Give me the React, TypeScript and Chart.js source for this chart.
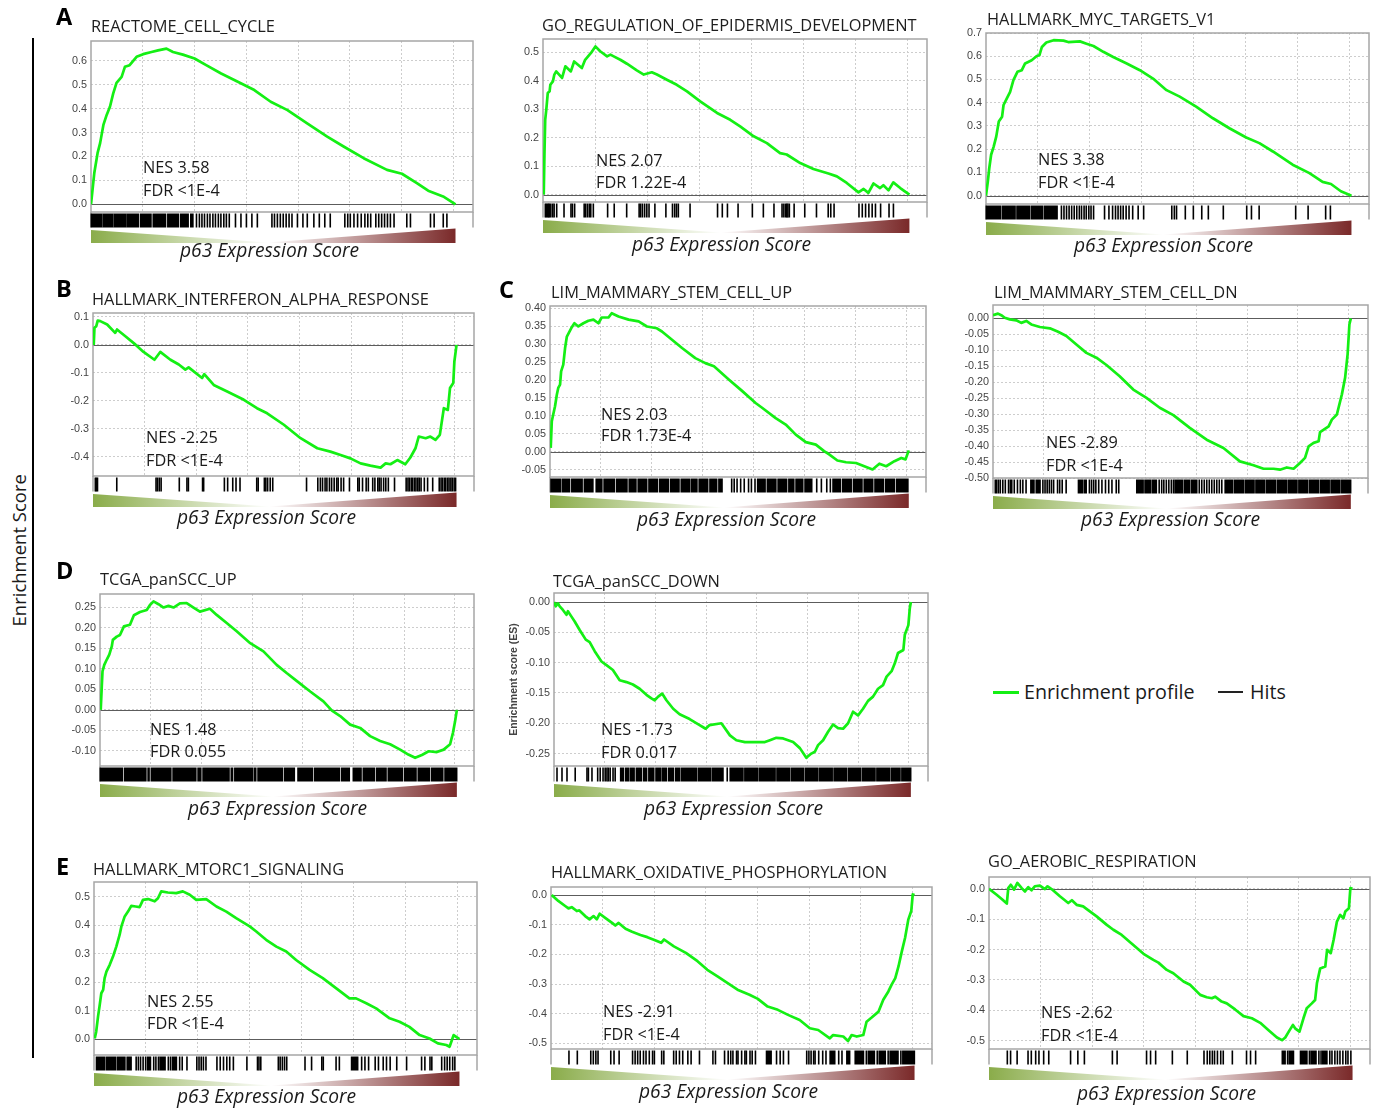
import React, { useEffect, useRef } from "react";
import { Chart, registerables } from "chart.js";

Chart.register(...registerables);

type Pt = [number, number];
type Hit = number | [number, number];

// ---------------- shared x grid (percent of ranked list) ----------------
const GRID_X = [14.2, 28.4, 42.6, 56.8, 71.0, 85.2, 99.4];
const X_MAX = 104.8;

// ---------------- A1 REACTOME_CELL_CYCLE ----------------
const titleA1 = "REACTOME_CELL_CYCLE";
const statsA1 = ["NES 3.58", "FDR <1E-4"];
const ticksA1 = ["0.0", "0.1", "0.2", "0.3", "0.4", "0.5", "0.6"];
const esA1: Pt[] = [[0,0],[0.9,0.131],[1.8,0.214],[2.5,0.256],[3.4,0.332],[4.3,0.374],[5.2,0.408],[6.1,0.464],[7.0,0.508],[8.4,0.533],[9.3,0.575],[10.6,0.582],[12.5,0.617],[14.3,0.628],[16.6,0.637],[18.4,0.644],[20.7,0.651],[22.5,0.637],[25.2,0.626],[28.4,0.610],[31.6,0.582],[35.7,0.547],[41.1,0.506],[44.8,0.478],[49.3,0.429],[53.9,0.394],[59.3,0.339],[64.8,0.283],[69.3,0.242],[74.8,0.193],[81.2,0.144],[85.3,0.128],[89.4,0.089],[92.5,0.057],[96.6,0.033],[100,0]];
const hitsA1: Hit[] = [[0,3],[3.3,6],[6.3,9.5],[9.8,13],[13.5,16.5],[17,20.5],[21,24],[24.5,26.7],[27.3,28],28.8,29.6,30.3,31,31.8,32.5,33.3,34,34.8,35.5,36.3,37,37.8,39.5,41,42.5,44,45.5,49.5,50.2,51,51.8,52.6,53.4,54.2,55,56.5,58,59.2,61,62.5,64,65.5,69.5,70.3,71,72,73,74,75,75.8,76.6,78,78.8,79.6,80.4,81.2,82,83,86.5,87.5,93,94,96.5,97.5];

// ---------------- A2 GO_REGULATION_OF_EPIDERMIS_DEVELOPMENT ----------------
const titleA2 = "GO_REGULATION_OF_EPIDERMIS_DEVELOPMENT";
const statsA2 = ["NES 2.07", "FDR 1.22E-4"];
const ticksA2 = ["0.0", "0.1", "0.2", "0.3", "0.4", "0.5"];
const esA2: Pt[] = [[0.2,0],[0.4,0.146],[0.6,0.263],[0.9,0.299],[1.3,0.357],[1.8,0.363],[2.0,0.386],[2.7,0.398],[3.1,0.422],[3.6,0.433],[5.2,0.410],[6.1,0.451],[7.6,0.433],[8.5,0.468],[10.6,0.445],[11.5,0.474],[13.1,0.498],[14.3,0.521],[15.6,0.504],[17.5,0.486],[18.4,0.492],[19.3,0.486],[21.1,0.474],[22.9,0.460],[25.6,0.437],[27.5,0.422],[29.7,0.430],[31.1,0.422],[33.8,0.404],[36.5,0.386],[39.3,0.363],[42.9,0.328],[47.5,0.287],[51.1,0.263],[53.8,0.240],[57.5,0.205],[61.1,0.181],[64.7,0.146],[66.5,0.141],[70.2,0.111],[73.8,0.090],[77.9,0.074],[80.2,0.064],[82.9,0.041],[86.1,0.008],[87.5,0.020],[88.8,0.006],[90.2,0.039],[92.0,0.023],[92.9,0.033],[94.3,0.015],[95.6,0.043],[97.5,0.023],[100,0]];
const hitsA2: Hit[] = [0.5,0.8,1.1,1.4,1.6,2,2.5,2.9,3.6,5.6,7.5,7.9,8.5,11.1,11.5,12,12.5,12.9,13.6,17.5,19.3,22.7,26.1,26.5,27,27.6,28.2,28.8,30.4,33.4,35.2,35.8,36.3,36.8,40,47.5,48.8,50.2,53.1,57,60,62.9,65.1,65.6,66.1,66.4,66.7,67.1,68.4,71.3,74.5,77.7,78.4,79.3,86.1,87,87.9,88.8,89.7,90.6,92,94.3,95.5];

// ---------------- A3 HALLMARK_MYC_TARGETS_V1 ----------------
const titleA3 = "HALLMARK_MYC_TARGETS_V1";
const statsA3 = ["NES 3.38", "FDR <1E-4"];
const ticksA3 = ["0.0", "0.1", "0.2", "0.3", "0.4", "0.5", "0.6", "0.7"];
const esA3: Pt[] = [[0,0],[0.5,0.061],[0.9,0.119],[1.4,0.176],[2.1,0.211],[2.8,0.254],[3.5,0.319],[4.4,0.340],[4.8,0.390],[5.7,0.419],[6.6,0.447],[7.5,0.497],[8.6,0.533],[9.8,0.540],[10.7,0.569],[12.5,0.583],[13.9,0.601],[14.6,0.604],[15.3,0.640],[16.5,0.659],[18.5,0.669],[21.2,0.667],[22.5,0.661],[25.7,0.664],[27.5,0.654],[29.4,0.644],[32.1,0.619],[34.8,0.597],[38.5,0.569],[42.1,0.540],[45.7,0.504],[49.4,0.454],[53.0,0.426],[57.5,0.383],[62.1,0.333],[66.6,0.290],[71.2,0.250],[74.8,0.226],[78.5,0.190],[83.9,0.133],[88.5,0.097],[92.1,0.059],[94.4,0.050],[97.1,0.019],[100,0]];
const hitsA3: Hit[] = [[0,4],[4.4,8],[8.4,12],[12.4,15.5],[15.9,19.5],20.5,21.2,21.9,22.6,23.3,24,24.7,25.4,26,26.7,27.3,28,28.6,29.3,32.3,33.5,34.5,35.3,36,36.7,37.4,38.2,39,40,41.5,43,50.7,51.4,52,54.4,56.6,58.9,60.7,64.8,71.2,72.5,74.6,84.6,88,92.8,94.1];

// ---------------- B1 HALLMARK_INTERFERON_ALPHA_RESPONSE ----------------
const titleB1 = "HALLMARK_INTERFERON_ALPHA_RESPONSE";
const statsB1 = ["NES -2.25", "FDR <1E-4"];
const ticksB1 = ["-0.4", "-0.3", "-0.2", "-0.1", "0.0", "0.1"];
const esB1: Pt[] = [[0.2,0],[0.4,0.061],[0.9,0.067],[1.3,0.087],[2.0,0.085],[3.9,0.073],[6.1,0.043],[6.6,0.055],[8.9,0.031],[11.7,0.001],[13.9,-0.025],[16.9,-0.053],[18.5,-0.025],[21.3,-0.053],[23.6,-0.070],[25.4,-0.088],[26.3,-0.080],[30.0,-0.118],[30.6,-0.104],[33.2,-0.143],[36.9,-0.166],[41.5,-0.196],[45.1,-0.226],[47.9,-0.244],[52.5,-0.285],[57.1,-0.333],[61.7,-0.369],[65.3,-0.381],[68.1,-0.393],[70.8,-0.405],[73.6,-0.423],[76.3,-0.431],[79.1,-0.438],[80.5,-0.423],[81.8,-0.426],[83.7,-0.411],[85.9,-0.426],[87.3,-0.402],[88.7,-0.369],[89.6,-0.327],[91.5,-0.333],[92.8,-0.327],[94.2,-0.339],[95.4,-0.321],[96.5,-0.226],[97.6,-0.232],[98.2,-0.154],[99.1,-0.136],[99.4,-0.059],[100,0]];
const hitsB1: Hit[] = [0.5,0.8,1.1,6.4,17.2,17.6,18.1,18.6,23.6,25.7,26.1,30,30.3,36,36.9,38.3,39.2,40.3,44.9,45.3,47,47.4,47.9,48.6,49.3,58.6,61.7,62.4,63,63.7,64.2,64.9,65.5,66.2,66.9,67.3,68.1,68.8,70.4,72.7,73.1,74,75,75.6,76.8,77.4,78.2,78.6,79.1,79.8,80.4,81.1,82.8,86,86.5,86.9,87.4,87.8,88.3,88.7,89.2,89.6,90.1,91,91.9,93.3,95.1,95.6,96,96.5,96.9,97.4,97.8,98.3,98.7,99.2,99.6];

// ---------------- C1 LIM_MAMMARY_STEM_CELL_UP ----------------
const titleC1 = "LIM_MAMMARY_STEM_CELL_UP";
const statsC1 = ["NES 2.03", "FDR 1.73E-4"];
const ticksC1 = ["-0.05", "0.00", "0.05", "0.10", "0.15", "0.20", "0.25", "0.30", "0.35", "0.40"];
const esC1: Pt[] = [[0.2,0.011],[0.5,0.085],[0.9,0.104],[1.4,0.127],[1.9,0.159],[2.3,0.178],[2.8,0.187],[3.1,0.224],[3.7,0.243],[4.2,0.289],[4.7,0.321],[5.9,0.344],[6.8,0.358],[7.9,0.349],[9.3,0.358],[10.7,0.365],[12.1,0.368],[13.5,0.358],[14.4,0.374],[16.3,0.374],[17.2,0.386],[19.1,0.377],[21.9,0.368],[24.7,0.363],[27.0,0.349],[29.8,0.344],[31.2,0.335],[34.0,0.312],[36.8,0.289],[40.5,0.261],[43.3,0.247],[45.7,0.238],[49.9,0.201],[53.6,0.169],[57.3,0.136],[59.2,0.122],[62.9,0.094],[65.7,0.076],[68.5,0.048],[71.3,0.027],[74.1,0.020],[76.4,0.002],[77.8,-0.007],[80.1,-0.024],[82.5,-0.029],[85.3,-0.031],[87.6,-0.040],[89.9,-0.049],[91.8,-0.033],[93.7,-0.040],[96.0,-0.026],[97.9,-0.017],[99.1,-0.021],[100,0.004]];
const hitsC1: Hit[] = [[0.2,3],[3.4,5.5],[6,9],[9.5,12],[12.8,14.5],[15,18],[18.5,21.5],[22,24],[24.5,27],[27.5,30],[30.5,33],[33.5,36],[36.5,39],[39.4,41],[41.5,44],[44.5,46.5],[47,48],50.5,51.2,52,53,54,55.2,56,57,[57.8,60],[60.5,63],[63.5,66],[66.5,68],[68.5,70.5],[71,73],74.2,75.5,77,78,[78.8,81],[81.5,84],[84.5,87],[87.5,90],[90.5,93],[93.5,96],[96.5,99.8]];

// ---------------- C2 LIM_MAMMARY_STEM_CELL_DN ----------------
const titleC2 = "LIM_MAMMARY_STEM_CELL_DN";
const statsC2 = ["NES -2.89", "FDR <1E-4"];
const ticksC2 = ["-0.50", "-0.45", "-0.40", "-0.35", "-0.30", "-0.25", "-0.20", "-0.15", "-0.10", "-0.05", "0.00"];
const esC2: Pt[] = [[0,0.010],[1.4,0.015],[2.3,0.010],[3.3,0.002],[4.7,-0.003],[6.5,-0.006],[7.9,-0.014],[9.3,-0.008],[10.7,-0.019],[13.1,-0.027],[15.9,-0.031],[18.2,-0.042],[20.5,-0.055],[23.3,-0.082],[26.1,-0.108],[28.9,-0.123],[31.7,-0.146],[35.4,-0.181],[39.2,-0.223],[42.9,-0.249],[46.6,-0.280],[50.4,-0.303],[55.0,-0.343],[59.7,-0.380],[64.4,-0.406],[69.0,-0.448],[72.8,-0.460],[75.6,-0.471],[78.4,-0.471],[80.2,-0.474],[82.1,-0.467],[84.0,-0.471],[85.8,-0.453],[87.2,-0.437],[88.2,-0.401],[89.6,-0.390],[91.0,-0.385],[91.4,-0.356],[93.8,-0.338],[94.7,-0.317],[96.1,-0.301],[97.5,-0.238],[98.4,-0.186],[99.1,-0.113],[99.6,-0.019],[100,0]];
const hitsC2: Hit[] = [0.5,0.9,1.4,1.9,2.6,3.3,4.2,4.7,5.1,5.8,6.7,7.5,8.2,9.1,[10.5,11.5],[12,13.2],13.8,14.4,15,15.6,16.2,16.8,17.9,18.5,19.2,20.3,[23.8,25],[25.4,26.1],26.8,27.4,28,28.6,29.4,30.3,31.3,32.2,33.1,34.3,35,[40.1,42],[42.4,44],[44.4,45.7],46.3,47,47.6,48.3,49,49.7,50.3,[50.8,53],[53.4,55],[55.4,57],57.5,58.2,58.9,59.6,60.3,61,61.7,62.4,63.1,63.8,[64.8,67],[67.4,70],[70.4,73],[73.4,76],[76.4,79],[79.4,82],[82.4,85],[85.4,88],[88.4,91],[91.4,94],[94.4,97],[97.4,100]];

// ---------------- D1 TCGA_panSCC_UP ----------------
const titleD1 = "TCGA_panSCC_UP";
const statsD1 = ["NES 1.48", "FDR 0.055"];
const ticksD1 = ["-0.10", "-0.05", "0.00", "0.05", "0.10", "0.15", "0.20", "0.25"];
const esD1: Pt[] = [[0.2,0],[0.5,0.058],[0.7,0.094],[1.2,0.110],[1.9,0.123],[2.6,0.135],[3.3,0.155],[3.6,0.171],[4.7,0.179],[5.6,0.183],[6.7,0.204],[8.4,0.208],[9.5,0.231],[11.2,0.239],[13.1,0.244],[14.0,0.256],[15.0,0.265],[16.4,0.258],[17.8,0.250],[19.2,0.254],[20.6,0.250],[22.4,0.260],[24.3,0.261],[26.2,0.250],[28.0,0.240],[30.8,0.247],[32.7,0.232],[35.5,0.212],[38.3,0.192],[42.1,0.163],[45.8,0.143],[49.5,0.110],[52.3,0.090],[55.1,0.071],[58.9,0.045],[62.6,0.021],[65.0,-0.002],[67.3,-0.015],[70.1,-0.036],[72.9,-0.044],[75.7,-0.064],[78.5,-0.076],[81.3,-0.084],[84.1,-0.097],[86.4,-0.109],[88.3,-0.117],[90.2,-0.110],[92.1,-0.101],[94.4,-0.103],[96.3,-0.097],[98.1,-0.084],[98.9,-0.056],[99.5,-0.028],[100,0]];
const hitsD1: Hit[] = [[0,6.3],[6.8,12.9],[13.4,13.8],[14.3,19.9],[20.4,26.9],[27.4,28.3],[28.8,36.2],[36.7,37.2],[37.7,42.8],[43.2,43.7],[44.2,51.2],[51.7,54.5],[55.4,59.6],[60.1,67.1],[67.6,69.9],[70.9,73.2],[73.7,76.9],[77.4,80.2],[80.7,84.8],[85.3,88.6],[89.1,92.3],[92.8,96.1],[96.6,100]];

// ---------------- D2 TCGA_panSCC_DOWN ----------------
const titleD2 = "TCGA_panSCC_DOWN";
const statsD2 = ["NES -1.73", "FDR 0.017"];
const ticksD2 = ["-0.25", "-0.20", "-0.15", "-0.10", "-0.05", "0.00"];
const esD2: Pt[] = [[0,0],[0.5,-0.007],[1.1,-0.002],[1.6,-0.007],[2.5,-0.013],[3.5,-0.021],[3.9,-0.015],[4.9,-0.024],[5.8,-0.032],[7.2,-0.046],[8.9,-0.062],[10.0,-0.066],[11.4,-0.081],[13.3,-0.098],[14.7,-0.104],[16.5,-0.112],[18.4,-0.129],[20.3,-0.132],[22.1,-0.136],[24.0,-0.143],[25.9,-0.153],[27.3,-0.159],[28.2,-0.162],[29.2,-0.156],[30.3,-0.151],[31.5,-0.162],[33.4,-0.176],[35.2,-0.185],[38.0,-0.193],[40.8,-0.203],[42.5,-0.209],[43.6,-0.203],[46.9,-0.200],[49.3,-0.220],[51.1,-0.228],[53.5,-0.231],[56.7,-0.231],[59.1,-0.231],[60.5,-0.228],[62.3,-0.224],[64.2,-0.225],[65.6,-0.228],[67.0,-0.231],[68.9,-0.241],[70.7,-0.257],[72.1,-0.250],[73.1,-0.247],[74.0,-0.236],[75.4,-0.228],[76.8,-0.214],[78.2,-0.202],[79.6,-0.208],[81.0,-0.209],[82.4,-0.200],[83.8,-0.181],[85.2,-0.187],[86.6,-0.176],[88.0,-0.163],[89.4,-0.156],[90.8,-0.143],[92.2,-0.137],[93.2,-0.123],[94.6,-0.114],[95.5,-0.101],[96.4,-0.084],[97.9,-0.079],[98.3,-0.054],[99.3,-0.038],[99.7,-0.010],[100,0]];
const hitsD2: Hit[] = [0.7,2.1,3.5,5.8,9.1,9.5,10.5,12.1,12.8,13.6,14.2,14.7,15.1,15.6,16.4,17,[18.6,19.5],[20,21],[21.4,22.5],[23,24.5],[25,26],[26.5,28],[28.5,30],[30.4,31.5],[32,33.5],[34,35.2],[35.6,40],[40.4,44],[44.4,47.4],48.4,[49.3,53],[53.4,57],[57.4,62],[62.4,66],[66.4,70],[70.4,74],[74.4,78],[78.4,82],[82.4,86],[86.4,90],[90.4,94],[94.4,97],[97.4,100]];

// ---------------- E1 HALLMARK_MTORC1_SIGNALING ----------------
const titleE1 = "HALLMARK_MTORC1_SIGNALING";
const statsE1 = ["NES 2.55", "FDR <1E-4"];
const ticksE1 = ["0.0", "0.1", "0.2", "0.3", "0.4", "0.5"];
const esE1: Pt[] = [[0.2,0.002],[0.6,0.026],[1.1,0.079],[1.5,0.114],[2.0,0.161],[2.5,0.173],[2.9,0.214],[3.4,0.237],[4.3,0.261],[5.2,0.290],[6.1,0.325],[7.0,0.366],[7.5,0.396],[8.4,0.431],[9.3,0.448],[10.2,0.468],[11.4,0.466],[12.5,0.464],[13.4,0.489],[14.8,0.492],[16.6,0.484],[17.5,0.495],[18.4,0.519],[20.2,0.515],[22.5,0.513],[24.3,0.519],[26.2,0.507],[28.0,0.489],[30.7,0.492],[33.5,0.466],[36.2,0.448],[38.9,0.425],[42.6,0.396],[44.4,0.378],[47.1,0.349],[49.9,0.325],[52.6,0.308],[55.3,0.278],[59.0,0.243],[62.6,0.214],[66.3,0.178],[69.9,0.143],[71.7,0.143],[74.5,0.126],[77.2,0.108],[80.9,0.073],[83.6,0.061],[86.3,0.043],[89.1,0.014],[91.8,0.002],[94.1,-0.015],[96.4,-0.021],[97.3,-0.027],[98.4,0.014],[99.3,0.006],[100,0]];
const hitsE1: Hit[] = [[0.6,3],[3.4,6],[6.4,8.5],[9,10.2],11.4,12,12.6,13.3,14,[14.6,15.5],16.2,16.8,17.5,[18,19.5],20.2,20.8,[21.4,22.6],23.3,24,25.3,28,28.6,29.2,29.8,30.5,33.5,34.4,35.3,36.2,37,38,41.7,44.6,45,45.5,50.3,50.8,51.4,52,52.6,57.6,59.4,62.2,62.6,66.1,67,[70.4,72.2],73.1,74,75,76.8,77.7,79,79.9,80.9,82.7,85.4,89.5,90.4,91.8,92.3,95,95.8,96.5,97.2,98,98.6];

// ---------------- E2 HALLMARK_OXIDATIVE_PHOSPHORYLATION ----------------
const titleE2 = "HALLMARK_OXIDATIVE_PHOSPHORYLATION";
const statsE2 = ["NES -2.91", "FDR <1E-4"];
const ticksE2 = ["-0.5", "-0.4", "-0.3", "-0.2", "-0.1", "0.0"];
const esE2: Pt[] = [[0.2,0],[2.0,-0.020],[3.9,-0.037],[4.8,-0.045],[5.7,-0.041],[7.1,-0.054],[7.8,-0.052],[9.4,-0.071],[10.6,-0.082],[11.7,-0.071],[12.6,-0.082],[13.4,-0.063],[14.9,-0.077],[16.8,-0.094],[17.7,-0.103],[18.6,-0.094],[20.5,-0.114],[22.3,-0.124],[24.6,-0.135],[26.5,-0.142],[28.8,-0.153],[30.3,-0.161],[31.1,-0.150],[33.8,-0.173],[37.1,-0.195],[40.3,-0.223],[43.0,-0.252],[45.8,-0.274],[48.6,-0.297],[51.3,-0.319],[54.6,-0.336],[56.9,-0.350],[59.6,-0.376],[62.4,-0.387],[65.2,-0.404],[68.4,-0.421],[71.2,-0.449],[73.5,-0.455],[76.7,-0.483],[77.6,-0.472],[80.4,-0.477],[81.7,-0.492],[82.7,-0.472],[84.1,-0.477],[85.9,-0.472],[86.8,-0.427],[88.2,-0.413],[90.1,-0.393],[91.4,-0.353],[92.8,-0.325],[93.7,-0.302],[94.7,-0.280],[95.6,-0.240],[96.5,-0.190],[97.4,-0.144],[98.3,-0.082],[99.1,-0.054],[99.5,0.002],[100,0]];
const hitsE2: Hit[] = [4.8,7.1,10.8,11.5,12.2,12.8,16.3,17.2,18.6,22.3,23,23.7,24.4,25.3,26,26.9,27.8,28.3,30.3,30.9,33.6,34.3,35.2,36.1,37.5,38.4,40.7,44.4,45.1,47.6,48.6,49.3,49.9,50.9,51.3,52.3,53.2,53.6,54.6,55.2,56.1,[59.2,60.6],61.9,62.9,63.8,65.2,70.2,70.8,71.4,72.1,72.5,73.5,74.6,75.5,[76.7,78.1],79,79.9,[81.3,82.2],[83.6,86],86.6,[87.2,89],89.6,[90.2,92],92.6,[93.2,95.5],96.1,[96.7,100]];

// ---------------- E3 GO_AEROBIC_RESPIRATION ----------------
const titleE3 = "GO_AEROBIC_RESPIRATION";
const statsE3 = ["NES -2.62", "FDR <1E-4"];
const ticksE3 = ["-0.5", "-0.4", "-0.3", "-0.2", "-0.1", "0.0"];
const esE3: Pt[] = [[0,0],[2.1,-0.020],[3.5,-0.034],[4.9,-0.049],[5.3,0.002],[6.0,0.013],[6.9,-0.003],[7.8,0.019],[9.0,0.002],[9.9,-0.009],[10.8,0.005],[11.7,-0.005],[12.6,0.008],[14.0,0.010],[15.4,-0.001],[16.1,0.008],[17.2,-0.001],[19.5,-0.025],[21.8,-0.047],[22.8,-0.038],[24.1,-0.053],[25.9,-0.058],[26.9,-0.067],[29.6,-0.091],[32.4,-0.119],[34.2,-0.135],[36.5,-0.152],[39.7,-0.185],[42.5,-0.214],[45.2,-0.234],[46.6,-0.243],[48.9,-0.267],[50.7,-0.278],[53.5,-0.305],[55.3,-0.316],[58.1,-0.349],[59.9,-0.357],[61.3,-0.360],[62.2,-0.355],[64.0,-0.371],[65.4,-0.377],[67.7,-0.397],[70.0,-0.419],[72.3,-0.426],[74.6,-0.441],[76.9,-0.465],[79.2,-0.489],[80.6,-0.498],[81.5,-0.489],[82.7,-0.465],[83.6,-0.448],[84.2,-0.459],[85.4,-0.470],[86.5,-0.426],[87.4,-0.393],[88.8,-0.377],[89.7,-0.366],[90.2,-0.311],[91.1,-0.262],[92.5,-0.256],[93.0,-0.201],[94.0,-0.212],[94.8,-0.168],[95.7,-0.108],[96.6,-0.086],[97.5,-0.097],[98.0,-0.075],[99.0,-0.064],[99.4,0.002],[100,0]];
const hitsE3: Hit[] = [4.9,5.8,7.6,10.6,11.5,12.7,13.6,14.9,16.3,22.3,24.3,26.1,33.8,35.1,43.2,44.3,45.7,50.3,54.4,59,59.9,60.6,61.3,61.9,62.7,63.6,64.3,66.8,70.7,71.8,73.2,[80.6,81.5],82,[82.5,83.8],[85.6,87.5],88,[88.5,90],90.6,91.2,[91.7,93],93.6,94.2,95,95.7,96.4,97.2,98,98.6,99.4];

// ---------------- legend / labels ----------------
const legendLabels = ["Enrichment profile", "Hits"];
const xAxisLabel = "p63 Expression Score";
const sideLabel = "Enrichment Score";
const esAxisTitle = "Enrichment score (ES)";

// ---------------- layout (positions only) ----------------
interface Panel {
  title: string; stats: string[]; ticks: string[]; es: Pt[]; hits: Hit[];
  y: [number, number]; box: [number, number, number, number];
  tp: [number, number]; sp: [number, number, number]; pp: [number, number]; yTitle?: boolean;
}

const PANELS: Panel[] = [
  { title: titleA1, stats: statsA1, ticks: ticksA1, es: esA1, hits: hitsA1, y: [-0.032, 0.683], box: [91, 41, 473, 212], tp: [91, 33], sp: [143, 173, 196], pp: [180, 257] },
  { title: titleA2, stats: statsA2, ticks: ticksA2, es: esA2, hits: hitsA2, y: [-0.026, 0.547], box: [543, 39, 927, 202], tp: [542, 32], sp: [596, 166, 188], pp: [632, 251] },
  { title: titleA3, stats: statsA3, ticks: ticksA3, es: esA3, hits: hitsA3, y: [-0.036, 0.70], box: [986, 33, 1369, 204], tp: [987, 26], sp: [1038, 165, 188], pp: [1074, 252] },
  { title: titleB1, stats: statsB1, ticks: ticksB1, es: esB1, hits: hitsB1, y: [-0.468, 0.114], box: [93, 313, 474, 476], tp: [92, 306], sp: [146, 443, 466], pp: [177, 524] },
  { title: titleC1, stats: statsC1, ticks: ticksC1, es: esC1, hits: hitsC1, y: [-0.070, 0.406], box: [550, 306, 926, 477], tp: [551, 299], sp: [601, 420, 441], pp: [637, 526] },
  { title: titleC2, stats: statsC2, ticks: ticksC2, es: esC2, hits: hitsC2, y: [-0.50, 0.042], box: [993, 305, 1368, 478], tp: [994, 299], sp: [1046, 448, 471], pp: [1081, 526] },
  { title: titleD1, stats: statsD1, ticks: ticksD1, es: esD1, hits: hitsD1, y: [-0.137, 0.283], box: [100, 594, 474, 766], tp: [100, 586], sp: [150, 735, 757], pp: [188, 815] },
  { title: titleD2, stats: statsD2, ticks: ticksD2, es: esD2, hits: hitsD2, y: [-0.2705, 0.015], box: [554, 593, 928, 766], tp: [553, 588], sp: [601, 735, 758], pp: [644, 815], yTitle: true },
  { title: titleE1, stats: statsE1, ticks: ticksE1, es: esE1, hits: hitsE1, y: [-0.056, 0.552], box: [94, 882, 477, 1055], tp: [93, 876], sp: [147, 1007, 1029], pp: [177, 1103] },
  { title: titleE2, stats: statsE2, ticks: ticksE2, es: esE2, hits: hitsE2, y: [-0.519, 0.027], box: [551, 887, 932, 1049], tp: [551, 879], sp: [603, 1017, 1040], pp: [639, 1098] },
  { title: titleE3, stats: statsE3, ticks: ticksE3, es: esE3, hits: hitsE3, y: [-0.527, 0.0385], box: [989, 877, 1370, 1049], tp: [988, 868], sp: [1041, 1018, 1041], pp: [1077, 1100] },
];

const LETTERS: [string, number, number][] = [["A", 56, 26], ["B", 56, 298], ["C", 499, 299], ["D", 56, 580], ["E", 56, 876]];

const AXW = 46, PT = 12, PR = 4, PB = 36;
const GREEN = "#14ef14";
const OPEN = "'Open Sans', 'Noto Sans', sans-serif";

function Txt(props: { x: number; b: number; size: number; children: React.ReactNode; italic?: boolean; bold?: boolean; color?: string }) {
  const { x, b, size, children, italic, bold, color } = props;
  return (
    <div style={{ position: "absolute", left: x, top: b - 0.888 * size, fontFamily: OPEN, fontSize: size, lineHeight: `${size}px`, fontStyle: italic ? "italic" : "normal", fontWeight: bold ? 700 : 400, color: color || "#1a1a1a", whiteSpace: "nowrap" }}>
      {children}
    </div>
  );
}

function GseaChart({ panel }: { panel: Panel }) {
  const ref = useRef<HTMLCanvasElement | null>(null);
  const [L, T, R, B] = panel.box;
  const width = R - L + AXW + PR;
  const height = B - T + PT + PB;

  useEffect(() => {
    if (!ref.current) return;
    const tickVals = panel.ticks.map((t) => parseFloat(t));
    const gsea = {
      id: "gsea",
      beforeDatasetsDraw(chart: any) {
        const { ctx, chartArea: a, scales } = chart;
        const y0 = Math.round(scales.y.getPixelForValue(0)) + 0.5;
        ctx.save();
        ctx.strokeStyle = "#5c5c5c";
        ctx.lineWidth = 1.2;
        ctx.beginPath();
        ctx.moveTo(a.left, y0);
        ctx.lineTo(a.right, y0);
        ctx.stroke();
        ctx.strokeStyle = "#a6a6a6";
        ctx.lineWidth = 1.5;
        ctx.strokeRect(a.left, a.top, a.right - a.left, a.bottom - a.top);
        ctx.restore();
      },
      afterDraw(chart: any) {
        const { ctx, chartArea: a, scales } = chart;
        const xs = scales.x;
        const hTop = a.bottom + 1.5;
        const hBot = a.bottom + 15.5;
        ctx.save();
        ctx.strokeStyle = "#a6a6a6";
        ctx.lineWidth = 1.5;
        ctx.beginPath();
        ctx.moveTo(a.left, a.bottom);
        ctx.lineTo(a.left, hBot);
        ctx.moveTo(a.right, a.bottom);
        ctx.lineTo(a.right, hBot);
        ctx.stroke();
        ctx.fillStyle = "#000";
        for (const hit of panel.hits) {
          if (typeof hit === "number") {
            const xp = xs.getPixelForValue(hit);
            ctx.fillRect(xp - 0.3, hTop, 1.6, hBot - hTop);
          } else {
            const x1 = xs.getPixelForValue(hit[0]);
            const x2 = xs.getPixelForValue(hit[1]);
            ctx.fillRect(x1 - 0.5, hTop, x2 - x1 + 1.1, hBot - hTop);
          }
        }
        const gx0 = xs.getPixelForValue(0);
        const gx1 = xs.getPixelForValue(100);
        const gxm = xs.getPixelForValue(48.5);
        const gTop = a.bottom + 17;
        const gBot = a.bottom + 31;
        const grad = ctx.createLinearGradient(gx0, 0, gx1, 0);
        grad.addColorStop(0, "#8aac4a");
        grad.addColorStop(0.485, "#ffffff");
        grad.addColorStop(1, "#7a2929");
        ctx.fillStyle = grad;
        ctx.beginPath();
        ctx.moveTo(gx0, gTop + 1);
        ctx.lineTo(gxm, gBot - 0.5);
        ctx.lineTo(gx1, gTop - 0.5);
        ctx.lineTo(gx1, gBot);
        ctx.lineTo(gx0, gBot);
        ctx.closePath();
        ctx.fill();
        ctx.restore();
      },
    };

    const gridOpts = { color: "#cdcdcd", lineWidth: 1, drawTicks: false };
    const chart = new Chart(ref.current, {
      type: "line",
      data: {
        datasets: [
          {
            data: panel.es.map(([x, y]) => ({ x, y })),
            borderColor: GREEN,
            borderWidth: 2.7,
            pointRadius: 0,
            tension: 0,
            fill: false,
            borderJoinStyle: "round",
          },
        ],
      },
      options: {
        animation: false,
        responsive: false,
        maintainAspectRatio: false,
        events: [],
        layout: { padding: { left: 0, top: PT, right: PR, bottom: PB } },
        plugins: { legend: { display: false }, tooltip: { enabled: false }, title: { display: false } },
        scales: {
          x: {
            type: "linear",
            min: 0,
            max: X_MAX,
            afterBuildTicks: (s: any) => { s.ticks = GRID_X.map((v) => ({ value: v })); },
            afterFit: (s: any) => { s.height = 0; },
            ticks: { display: false },
            grid: gridOpts,
            border: { display: false, dash: [2, 2] },
          },
          y: {
            type: "linear",
            min: panel.y[0],
            max: panel.y[1],
            afterBuildTicks: (s: any) => { s.ticks = tickVals.map((v) => ({ value: v })); },
            afterFit: (s: any) => { s.width = AXW; },
            ticks: {
              autoSkip: false,
              padding: 4,
              color: "#444444",
              font: { family: "'Liberation Sans', Arial, sans-serif", size: 10.8 },
              callback: (_v: any, i: number) => panel.ticks[i],
            },
            grid: gridOpts,
            border: { display: false, dash: [2, 2] },
            title: panel.yTitle
              ? { display: true, text: esAxisTitle, color: "#444", padding: 0, font: { family: "'Liberation Sans', Arial, sans-serif", size: 10.5, weight: "bold" } }
              : { display: false },
          },
        },
      },
      plugins: [gsea],
    } as any);
    return () => chart.destroy();
  }, [panel]);

  return (
    <canvas
      ref={ref}
      width={width}
      height={height}
      style={{ position: "absolute", left: L - AXW, top: T - PT, width, height }}
    />
  );
}

export default function App() {
  return (
    <div style={{ position: "absolute", left: 0, top: 0, width: 1383, height: 1115, background: "#fff", overflow: "hidden" }}>
      {PANELS.map((p, i) => (
        <React.Fragment key={i}>
          <GseaChart panel={p} />
          <Txt x={p.tp[0]} b={p.tp[1]} size={16.4} color="#1e1e1e">{p.title}</Txt>
          <Txt x={p.sp[0]} b={p.sp[1]} size={16.3} color="#1a1a1a">{p.stats[0]}</Txt>
          <Txt x={p.sp[0]} b={p.sp[2]} size={16.3} color="#1a1a1a">{p.stats[1]}</Txt>
          <Txt x={p.pp[0]} b={p.pp[1]} size={19.2} italic color="#1a1a1a">{xAxisLabel}</Txt>
        </React.Fragment>
      ))}
      {LETTERS.map(([t, x, b]) => (
        <Txt key={t} x={x} b={b} size={23.5} bold color="#000">{t}</Txt>
      ))}
      {/* side label and bracket line */}
      <div style={{ position: "absolute", left: 32, top: 38, width: 2, height: 1020, background: "#000" }} />
      <div style={{ position: "absolute", left: 19 - 100, top: 550 - 9.25, width: 200, height: 18.5, lineHeight: "18.5px", fontSize: 18.5, fontFamily: OPEN, color: "#1a1a1a", textAlign: "center", transform: "rotate(-90deg)", transformOrigin: "50% 50%", whiteSpace: "nowrap" }}>
        {sideLabel}
      </div>
      {/* legend */}
      <div style={{ position: "absolute", left: 993, top: 690.5, width: 26, height: 3, background: GREEN }} />
      <Txt x={1024} b={699} size={19.7} color="#1a1a1a">{legendLabels[0]}</Txt>
      <div style={{ position: "absolute", left: 1218, top: 691, width: 25, height: 2, background: "#222" }} />
      <Txt x={1250} b={699} size={19.7} color="#1a1a1a">{legendLabels[1]}</Txt>
    </div>
  );
}
